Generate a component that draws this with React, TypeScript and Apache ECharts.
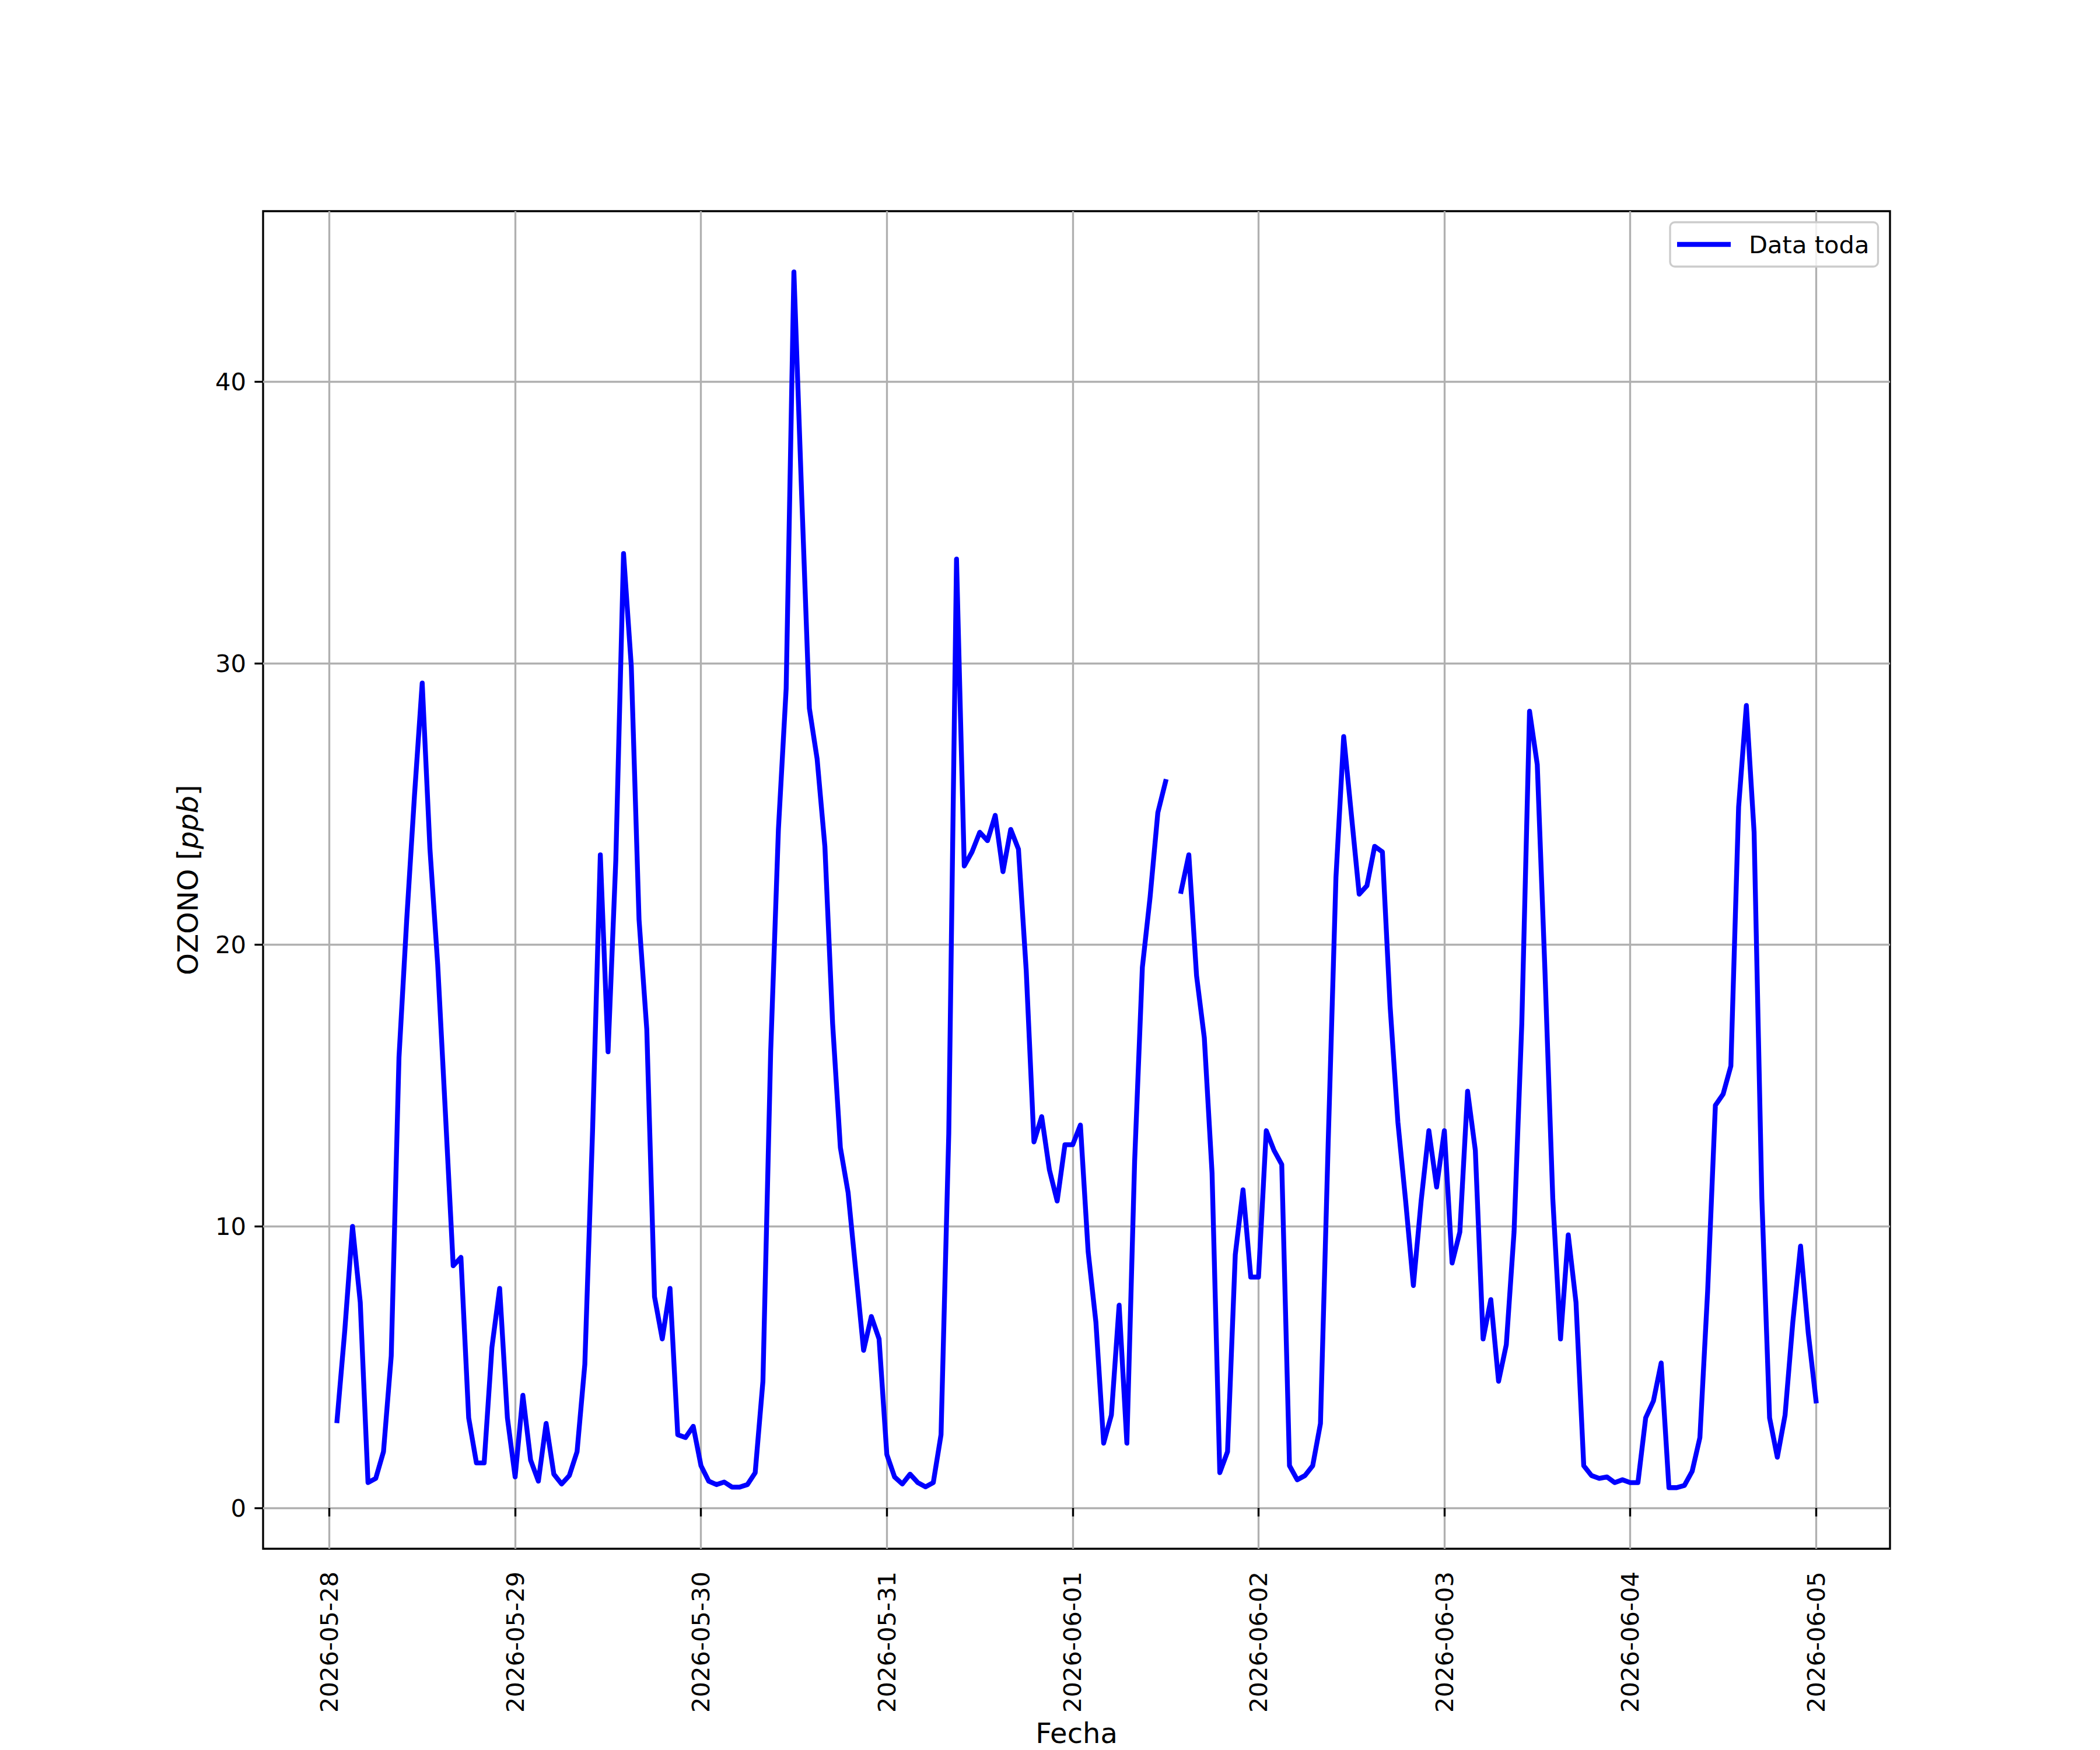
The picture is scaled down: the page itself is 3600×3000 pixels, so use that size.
import React, { useEffect, useRef } from "react";
import * as echarts from "echarts";

// Tick labels
const dayLabels = [
  "2026-05-28", "2026-05-29", "2026-05-30", "2026-05-31", "2026-06-01",
  "2026-06-02", "2026-06-03", "2026-06-04", "2026-06-05",
];
const yTicks = [0, 10, 20, 30, 40];

// Hourly OZONO [ppb] values. 2026-05-28 starts at 01:00, the other days at 00:00.
const ozono_0528 = [3.1, 6.3, 10.0, 7.3, 0.9, 1.05, 2.0, 5.4, 16.0, 20.9, 25.3, 29.3, 23.4, 19.3, 14.0, 8.6, 8.9, 3.2, 1.6, 1.6, 5.7, 7.8, 3.2];
const ozono_0529 = [1.1, 4.0, 1.7, 0.95, 3.0, 1.2, 0.85, 1.15, 2.0, 5.1, 13.4, 23.2, 16.2, 23.0, 33.9, 29.9, 20.9, 17.0, 7.5, 6.0, 7.8, 2.6, 2.5, 2.9];
const ozono_0530 = [1.5, 0.95, 0.83, 0.92, 0.74, 0.74, 0.83, 1.25, 4.5, 16.2, 24.1, 29.1, 43.9, 36.0, 28.4, 26.6, 23.5, 17.2, 12.8, 11.2, 8.4, 5.6, 6.8, 6.0];
const ozono_0531 = [1.9, 1.1, 0.85, 1.2, 0.9, 0.75, 0.9, 2.6, 13.3, 33.7, 22.8, 23.3, 24.0, 23.7, 24.6, 22.6, 24.1, 23.4, 19.1, 13.0, 13.9, 12.0, 10.9, 12.9];
const ozono_0601 = [12.9, 13.6, 9.1, 6.6, 2.3, 3.3, 7.2, 2.3, 12.3, 19.2, 21.7, 24.7, 25.8, null, 21.9, 23.2, 18.9, 16.7, 11.9, 1.25, 2.0, 9.0, 11.3, 8.2];
const ozono_0602 = [8.2, 13.4, 12.7, 12.2, 1.5, 1.0, 1.15, 1.5, 3.0, 13.0, 22.4, 27.4, 24.6, 21.8, 22.1, 23.5, 23.3, 17.8, 13.7, 10.9, 7.9, 10.9, 13.4, 11.4];
const ozono_0603 = [13.4, 8.7, 9.8, 14.8, 12.7, 6.0, 7.4, 4.5, 5.8, 9.8, 17.2, 28.3, 26.4, 19.0, 11.0, 6.0, 9.7, 7.3, 1.5, 1.15, 1.05, 1.1, 0.9, 1.0];
const ozono_0604 = [0.9, 0.9, 3.2, 3.8, 5.15, 0.72, 0.72, 0.8, 1.3, 2.5, 7.7, 14.3, 14.7, 15.7, 24.9, 28.5, 24.0, 11.0, 3.2, 1.8, 3.3, 6.6, 9.3, 6.2];
const ozono_0605 = [3.8];

const HOUR = 3600000;
const DAY = 24 * HOUR;
const T0 = Date.UTC(2026, 4, 28, 0);
const FIRST_HOUR = 1;

const FONT = "DejaVu Sans";

export default function App() {
  const ref = useRef<HTMLDivElement>(null);

  useEffect(() => {
    if (!ref.current) return;
    const chart = echarts.init(ref.current, undefined, { renderer: "svg" });

    const values = [
      ...ozono_0528, ...ozono_0529, ...ozono_0530, ...ozono_0531, ...ozono_0601,
      ...ozono_0602, ...ozono_0603, ...ozono_0604, ...ozono_0605,
    ];
    const data = values.map((v, i) => [T0 + (i + FIRST_HOUR) * HOUR, v === null ? "-" : v]);
    const dayTicks = dayLabels.map((_, i) => T0 + i * DAY);

    const tStart = T0 + FIRST_HOUR * HOUR;
    const tEnd = T0 + (values.length - 1 + FIRST_HOUR) * HOUR;
    const xPad = (tEnd - tStart) * 0.05;

    const tickLine = { show: true, inside: false, length: 14.6, lineStyle: { color: "#000", width: 3.33 } };
    const gridLine = { show: true, lineStyle: { color: "#b0b0b0", width: 3.33 } };

    chart.setOption({
      animation: false,
      backgroundColor: "#ffffff",
      grid: {
        left: 451,
        right: 360,
        top: 362,
        bottom: 330,
        show: true,
        borderColor: "#000",
        borderWidth: 3.33,
        backgroundColor: "transparent",
        containLabel: false,
      },
      legend: {
        show: true,
        data: [{ name: "Data toda", icon: "rect" }],
        left: 2863,
        top: 381,
        orient: "horizontal",
        itemWidth: 92,
        itemHeight: 8.3,
        itemGap: 0,
        padding: [17, 15, 17, 12],
        backgroundColor: "rgba(255,255,255,0.8)",
        borderColor: "#cccccc",
        borderWidth: 3.33,
        borderRadius: 8,
        textStyle: { fontFamily: FONT, fontSize: 41.67, color: "#000", padding: [0, 0, 0, 26] },
      },
      xAxis: {
        type: "value",
        min: tStart - xPad,
        max: tEnd + xPad,
        name: "Fecha",
        nameLocation: "middle",
        nameGap: 292,
        nameTextStyle: { fontFamily: FONT, fontSize: 48, color: "#000" },
        axisLine: { show: false },
        axisTick: { ...tickLine, customValues: dayTicks },
        axisLabel: {
          customValues: dayTicks,
          rotate: 90,
          margin: 39,
          fontFamily: FONT,
          fontSize: 41.67,
          color: "#000",
          formatter: (v: number) => dayLabels[Math.round((v - T0) / DAY)] ?? "",
        },
        splitLine: gridLine,
      },
      yAxis: {
        type: "value",
        min: -1.45,
        max: 46.06,
        name: "{n|OZONO [}{i|ppb}{n|]}",
        nameLocation: "middle",
        nameRotate: 90,
        nameGap: 105,
        nameTextStyle: {
          fontFamily: FONT,
          fontSize: 48,
          color: "#000",
          rich: {
            n: { fontFamily: FONT, fontSize: 48, color: "#000" },
            i: { fontFamily: FONT, fontSize: 48, color: "#000", fontStyle: "italic" },
          },
        },
        axisLine: { show: false },
        axisTick: { ...tickLine, customValues: yTicks },
        axisLabel: {
          customValues: yTicks,
          margin: 29,
          fontFamily: FONT,
          fontSize: 41.67,
          color: "#000",
        },
        splitLine: gridLine,
      },
      series: [
        {
          name: "Data toda",
          type: "line",
          data,
          showSymbol: false,
          symbol: "none",
          connectNulls: false,
          color: "#0000ff",
          lineStyle: { color: "#0000ff", width: 8.33, join: "round", cap: "square" },
          itemStyle: { color: "#0000ff" },
          clip: true,
          z: 3,
        },
      ],
    });

    return () => {
      chart.dispose();
    };
  }, []);

  return (
    <div
      ref={ref}
      style={{ position: "absolute", left: 0, top: 0, width: 3600, height: 3000, background: "#fff" }}
    />
  );
}
